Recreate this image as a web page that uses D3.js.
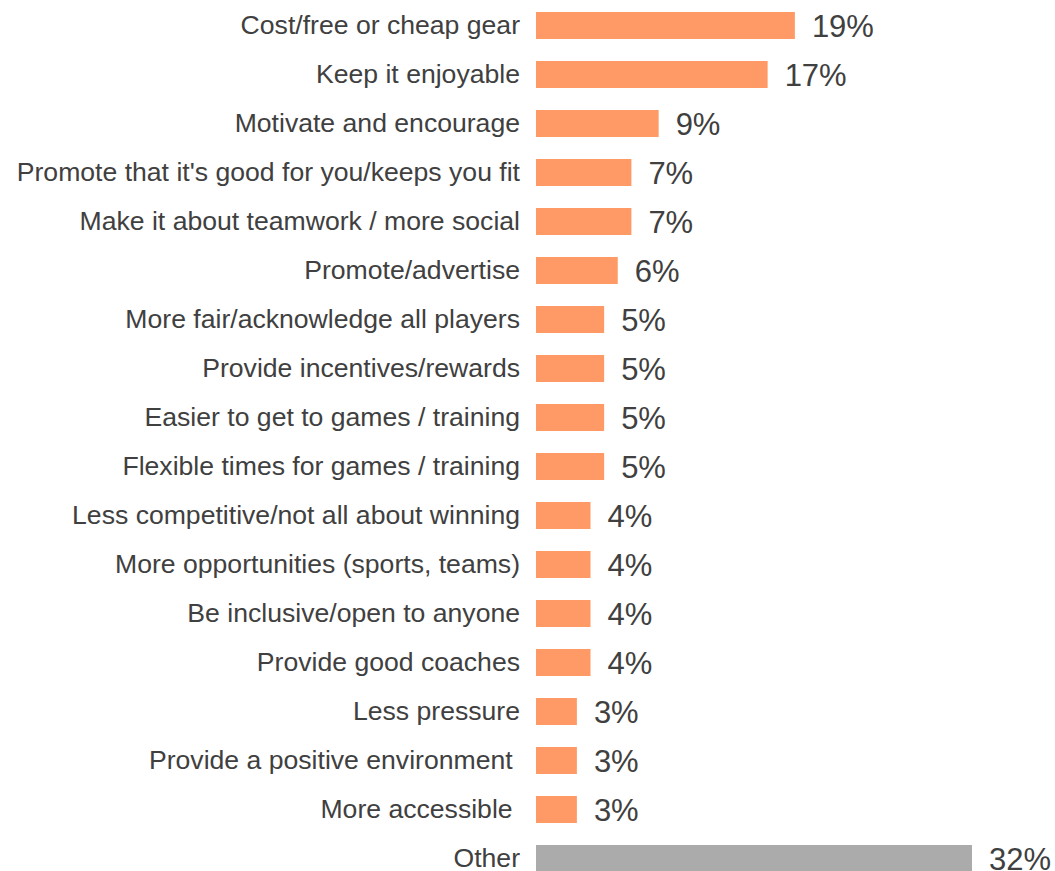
<!DOCTYPE html>
<html>
<head>
<meta charset="utf-8">
<script src="https://cdn.jsdelivr.net/npm/d3@7"></script>
<style>
  html, body { margin: 0; padding: 0; background: #fff; }
  svg { display: block; }
</style>
</head>
<body>
<svg id="chart" width="1055" height="871"></svg>
<script>
// Responses: ways to encourage participation (% of respondents)
const categories = [
  "Cost/free or cheap gear",
  "Keep it enjoyable",
  "Motivate and encourage",
  "Promote that it's good for you/keeps you fit",
  "Make it about teamwork / more social",
  "Promote/advertise",
  "More fair/acknowledge all players",
  "Provide incentives/rewards",
  "Easier to get to games / training",
  "Flexible times for games / training",
  "Less competitive/not all about winning",
  "More opportunities (sports, teams)",
  "Be inclusive/open to anyone",
  "Provide good coaches",
  "Less pressure",
  "Provide a positive environment ",
  "More accessible ",
  "Other"
];
const values = [19, 17, 9, 7, 7, 6, 5, 5, 5, 5, 4, 4, 4, 4, 3, 3, 3, 32];
const otherCategory = "Other";

const data = categories.map((c, i) => ({ category: c, value: values[i] }));

const svg = d3.select("#chart");

const x = d3.scaleLinear().domain([0, 32]).range([536, 972]);
const y = d3.scaleBand()
  .domain(categories)
  .range([1, 883])
  .paddingInner(22 / 49)
  .paddingOuter(11 / 49);

const font = "'Liberation Sans', Arial, sans-serif";

// bars
svg.append("g").selectAll("rect")
  .data(data)
  .join("rect")
  .attr("x", x(0))
  .attr("y", d => y(d.category))
  .attr("width", d => x(d.value) - x(0))
  .attr("height", y.bandwidth())
  .attr("fill", d => d.category === otherCategory ? "#ABABAB" : "#FF9966");

// category axis labels
const yAxis = d3.axisLeft(y).tickSize(0).tickPadding(16);
const ga = svg.append("g")
  .attr("transform", `translate(${x(0)},0)`)
  .call(yAxis);
ga.select(".domain").remove();
ga.selectAll("text")
  .style("white-space", "pre")
  .attr("font-family", font)
  .attr("font-size", 26.6)
  .attr("fill", "#404040");

// value labels
svg.append("g").selectAll("text")
  .data(data)
  .join("text")
  .attr("x", d => x(d.value) + 17)
  .attr("y", d => y(d.category) + y.bandwidth() / 2)
  .attr("dy", "0.36em")
  .attr("font-family", font)
  .attr("font-size", 31)
  .attr("fill", "#404040")
  .text(d => d.value + "%");
</script>
</body>
</html>
